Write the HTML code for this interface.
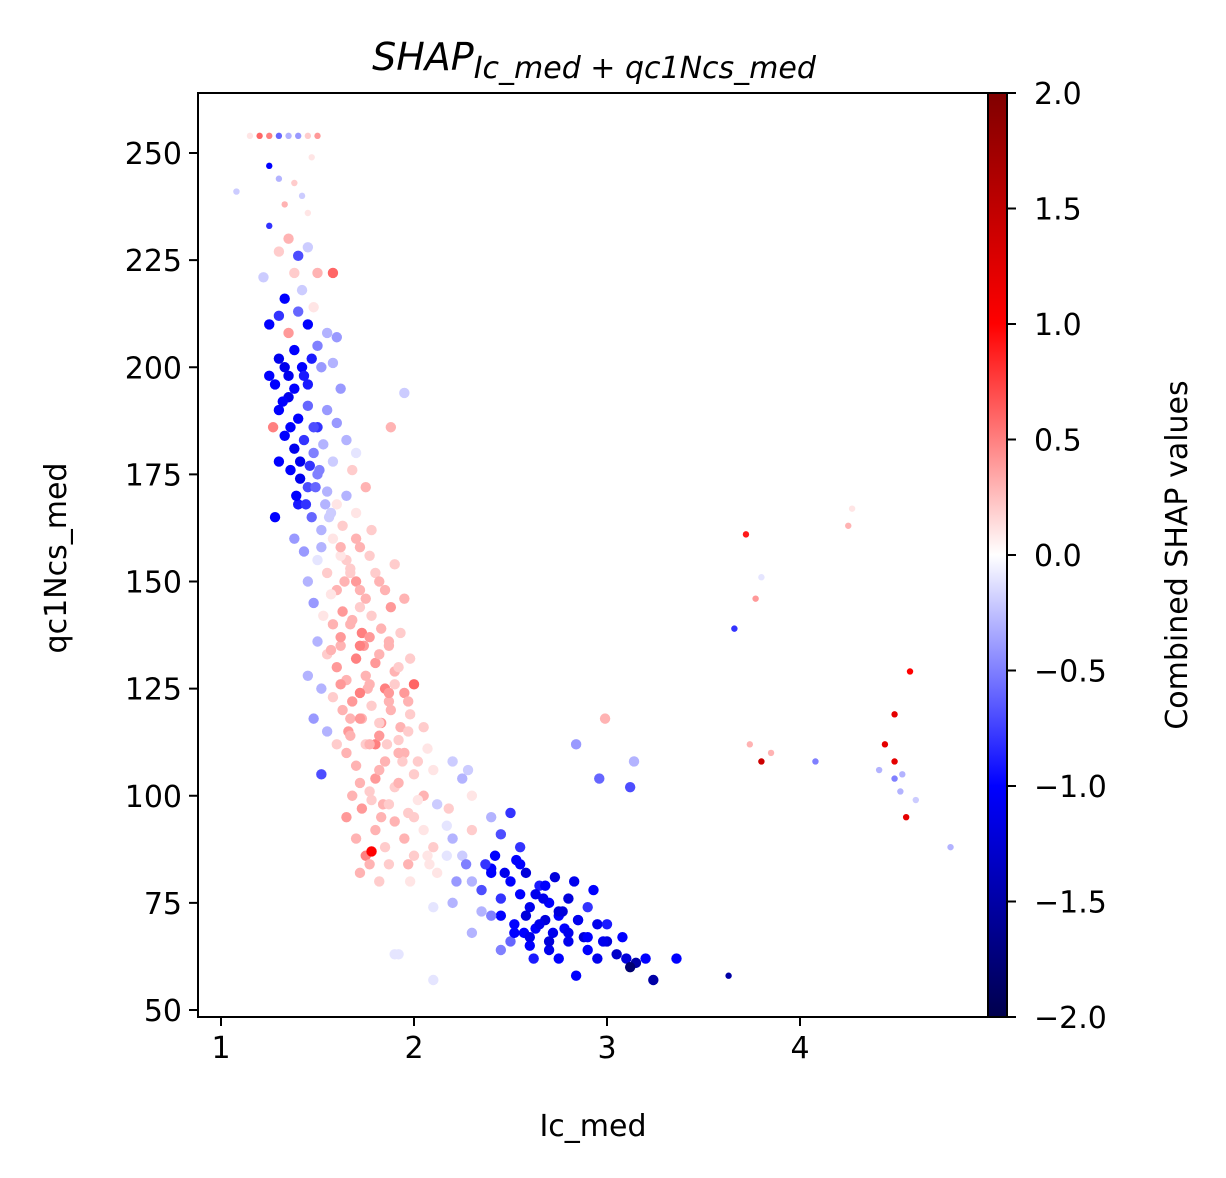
<!DOCTYPE html>
<html><head><meta charset="utf-8"><style>
body{margin:0;background:#fff;}
svg{display:block;font-family:"DejaVu Sans","Liberation Sans",sans-serif;}
</style></head><body>
<svg id="chart" width="1226" height="1178" viewBox="0 0 1226 1178">
<defs>
<linearGradient id="seis" x1="0" y1="1" x2="0" y2="0">
<stop offset="0" stop-color="#00004d"/><stop offset="0.25" stop-color="#0000ff"/><stop offset="0.5" stop-color="#ffffff"/><stop offset="0.75" stop-color="#ff0000"/><stop offset="1" stop-color="#800000"/>
</linearGradient>
<clipPath id="clip"><rect x="198" y="93" width="790" height="924"/></clipPath>
</defs>
<text x="594" y="70" text-anchor="middle" font-size="38" font-style="italic">SHAP<tspan font-size="30" dy="8">Ic_med + qc1Ncs_med</tspan></text>
<g id="points" clip-path="url(#clip)"></g>
<rect x="198" y="93" width="790" height="924" fill="none" stroke="#000" stroke-width="2"/>
<g id="xaxis"></g>
<g id="yaxis"></g>
<text x="593" y="1136" text-anchor="middle" font-size="30">Ic_med</text>
<text transform="translate(66,558) rotate(-90)" text-anchor="middle" font-size="30">qc1Ncs_med</text>
<rect x="988" y="93" width="19" height="924" fill="url(#seis)" stroke="#000" stroke-width="2"/>
<g id="caxis"></g>
<text transform="translate(1187,555) rotate(-90)" text-anchor="middle" font-size="30">Combined SHAP values</text>
</svg>
<script>
const xTicks=[1,2,3,4];
const yTicks=[50,75,100,125,150,175,200,225,250];
const cTicks=[2.0,1.5,1.0,0.5,0.0,-0.5,-1.0,-1.5,-2.0];
const xs=[1.15,1.2,1.25,1.3,1.35,1.4,1.45,1.5,
1.08,1.25,1.3,1.38,1.42,1.47,1.33,1.45,
1.25,1.35,1.4,1.38,1.5,1.58,1.45,1.3,1.42,1.22,1.48,1.33,
1.25,1.3,1.35,1.4,1.45,1.5,1.55,1.6,1.38,1.3,1.42,1.47,1.35,1.25,1.52,1.58,1.45,1.62,
1.3,1.35,1.4,1.45,1.5,1.55,1.6,1.65,1.33,1.38,1.43,1.48,1.53,1.58,1.27,1.7,1.36,1.41,
1.3,1.45,1.5,1.55,1.6,1.65,1.7,1.4,1.47,1.52,1.58,1.63,1.72,1.38,1.43,1.75,1.78,1.68,
1.45,1.5,1.55,1.6,1.65,1.7,1.75,1.8,1.85,1.9,1.48,1.53,1.58,1.63,1.68,1.73,1.78,1.83,1.88,1.95,1.93,1.5,1.98,
1.55,1.6,1.65,1.7,1.75,1.8,1.85,1.9,1.95,2.0,1.58,1.63,1.68,1.73,1.78,1.83,1.88,1.93,1.98,2.05,1.52,1.55,1.6,
1.65,1.7,1.75,1.8,1.85,1.9,1.95,2.0,2.05,2.1,2.15,2.2,2.25,2.3,1.68,1.73,1.78,1.83,2.18,2.28,
1.65,1.7,1.75,1.8,1.85,1.9,1.95,2.0,2.05,2.1,2.15,2.2,2.25,2.3,2.35,2.4,2.45,2.5,2.55,1.72,1.82,1.98,2.12,2.22,1.78,
2.3,2.35,2.4,2.45,2.5,2.55,2.6,2.65,2.7,2.75,2.8,2.85,2.9,2.95,2.45,2.52,2.58,2.63,2.68,2.72,2.78,2.88,2.4,2.35,2.2,2.1,
2.5,2.6,2.7,2.8,2.9,3.0,3.05,3.1,3.15,3.2,3.12,2.95,3.0,3.08,2.45,2.62,2.75,1.92,2.3,
1.45,1.48,1.52,1.62,1.72,1.66,1.76,1.86,1.56,1.64,1.74,1.84,1.94,1.7,1.8,1.9,2.0,2.08,2.4,2.55,2.65,2.75,2.85,2.57,2.67,2.77,
1.28,1.33,1.38,1.43,1.48,1.36,1.41,1.46,1.51,1.32,1.39,1.44,1.49,1.54,1.57,1.62,1.67,1.52,1.57,1.62,1.67,1.72,1.77,1.82,1.87,
1.57,1.62,1.67,1.72,1.77,1.82,1.87,1.92,1.62,1.67,1.72,1.77,1.82,1.87,1.92,1.97,1.67,1.72,1.77,1.82,1.87,1.92,1.97,2.02,2.07,
1.72,1.77,1.82,1.87,1.92,1.97,2.02,2.07,2.12,2.17,1.77,1.87,1.97,2.07,2.17,2.27,2.37,2.42,2.47,2.53,2.58,2.63,2.68,2.73,2.83,2.93,2.52,2.6,2.7,2.8,2.9,2.98,
3.72,3.77,3.80,3.66,4.27,4.25,4.1,4.57,4.49,4.44,4.49,3.80,3.74,3.85,4.08,4.41,4.49,4.53,4.55,4.6,4.52,4.78,2.99,2.84,3.14,3.12,2.96,3.63,2.84,3.24,3.36,2.1,1.9,1.95,1.88,1.28];
const ys=[254,254,254,254,254,254,254,254,
241,247,244,243,240,249,238,236,
233,230,226,222,222,222,228,227,218,221,214,216,
210,212,208,213,210,205,208,207,204,202,200,202,198,198,200,201,196,195,
190,193,188,191,186,190,187,183,184,181,183,180,182,178,186,180,176,174,
178,172,175,171,168,170,166,168,165,162,160,163,158,160,157,172,162,176,
150,155,152,148,155,150,146,152,148,154,145,142,140,143,141,138,142,139,144,146,138,136,132,
133,130,127,132,128,131,125,129,124,126,123,120,122,118,121,117,120,116,119,116,125,115,112,
110,107,112,104,108,102,110,105,100,106,103,108,104,100,100,97,99,95,97,106,
95,90,86,92,88,94,90,86,92,88,94,90,86,92,88,95,91,96,88,82,80,80,82,80,87,
80,78,82,76,80,77,74,79,75,72,76,71,74,70,72,70,72,69,71,68,69,67,72,73,75,74,
66,65,64,66,64,66,63,62,61,62,60,62,70,67,64,62,62,63,68,
128,118,105,135,144,115,125,112,165,150,135,98,108,160,112,126,95,84,83,84,70,73,71,68,76,73,
196,200,195,198,186,186,178,177,176,192,170,168,172,168,166,156,152,158,147,158,153,148,156,150,136,
134,137,140,135,137,133,135,130,126,118,124,126,114,122,113,122,114,118,112,117,124,110,115,108,111,
103,101,106,98,103,96,99,95,98,93,84,84,84,86,86,84,84,86,82,85,82,77,79,81,80,78,68,67,66,68,67,66,
161,146,151,139,167,163,136,129,119,112,108,108,112,110,108,106,104,105,95,99,101,88,118,112,108,102,104,58,58,57,62,57,63,194,186,165];
const vals=[0.1,0.6,0.5,-0.6,-0.3,-0.4,0.2,0.4,
-0.2,-1,-0.3,0.2,-0.2,0.1,0.3,0.1,
-0.8,0.3,-0.7,0.2,0.3,0.6,-0.2,0.2,-0.2,-0.2,0.1,-1,
-1,-0.8,0.4,-0.6,-1,-0.5,-0.3,-0.4,-1,-1.1,-1,-0.9,-1.1,-1,-0.4,-0.3,-0.9,-0.4,
-1,-1.1,-1,-0.6,-0.8,-0.4,-0.4,-0.3,-1,-1.1,-0.8,-0.5,-0.3,-0.2,0.5,-0.1,-1,-1.1,
-1,-0.7,-0.5,-0.3,0.1,-0.3,0.1,-0.9,-0.6,-0.3,0.1,0.2,0.3,-0.4,-0.4,0.3,0.2,0.2,
-0.3,-0.1,0.2,0.3,0.2,0.4,0.3,0.2,0.3,0.2,-0.4,0.1,0.3,0.4,0.3,0.5,0.2,0.3,0.4,0.3,0.2,-0.3,0.2,
0.2,0.4,0.3,0.5,0.3,0.4,0.5,0.3,0.4,0.6,0.2,0.3,0.4,0.3,0.2,0.4,0.3,0.3,0.2,0.2,-0.3,-0.3,0.2,
0.3,0.3,0.2,0.4,0.3,0.2,0.3,0.2,0.3,0.1,0,-0.2,-0.3,0.1,0.3,0.4,0.2,0.3,0.2,-0.2,
0.4,0.3,0.5,0.3,0.2,0.3,0.3,0.2,0.1,0.2,0,-0.3,-0.2,0.2,0,-0.3,-0.7,-0.8,-0.8,0.3,0.2,0.1,0.1,-0.4,1.0,
-0.3,-0.7,-1,-0.8,-1,-1,-1.1,-0.9,-1,-1,-1.2,-1,-0.8,-1.1,-1,-1,-1.2,-1,-1.2,-1.1,-1,-1.2,-0.5,-0.3,-0.3,-0.1,
-0.6,-1,-1.1,-1.1,-1,-1.2,-1.3,-1.2,-1.5,-1,-1.8,-1.1,-0.9,-1,-0.5,-0.9,-1,-0.1,-0.3,
-0.3,-0.4,-0.7,0.3,0.2,0.4,0.3,0.2,-0.2,0.3,0.4,0.3,0.2,0.3,0.5,0.2,0.2,0.1,-1.0,-1.0,-1.1,-1.2,-1.1,-1.0,-1.1,-1.2,
-1.0,-1.1,-1.0,-0.9,-0.7,-1.0,-1.1,-0.8,-0.5,-1.0,-1.0,-0.8,-0.6,-0.3,-0.2,0.1,0.2,-0.3,0.1,0.3,0.2,0.3,0.2,0.3,0.3,
0.3,0.4,0.3,0.5,0.4,0.3,0.3,0.2,0.4,0.3,0.5,0.3,0.4,0.3,0.2,0.3,0.3,0.4,0.3,0.2,0.4,0.3,0.2,0.2,0.1,
0.3,0.2,0.3,0.2,0.3,0.2,0.1,0.0,-0.2,-0.1,0.3,0.2,0.3,0.1,-0.1,-0.5,-0.8,-1.0,-1.1,-1.0,-1.2,-1.1,-1.0,-1.2,-1.1,-1.0,-1.0,-1.1,-1.2,-1.1,-1.0,-1.1,
0.9,0.4,-0.1,-0.8,0.1,0.3,0,1.0,1.2,1.2,1.2,1.4,0.3,0.3,-0.5,-0.3,-0.5,-0.3,1.2,-0.2,-0.3,-0.3,0.3,-0.4,-0.3,-0.7,-0.6,-1.5,-1,-1.5,-1,-0.1,-0.1,-0.2,0.3,-1];
const NS='http://www.w3.org/2000/svg';
const X0=221,XS=193,Y0=153,YS=857/200;
function xp(v){return X0+(v-1)*XS;}
function yp(v){return Y0+(250-v)*YS;}
function cp(v){return 93+(2-v)/4*924;}
function lerp(a,b,t){return a+(b-a)*t;}
function seismic(v){
  let t=Math.max(0,Math.min(1,(v+2)/4));
  const s=[[0,0,0,0.3],[0.25,0,0,1],[0.5,1,1,1],[0.75,1,0,0],[1,0.5,0,0]];
  for(let i=0;i<4;i++){if(t<=s[i+1][0]){const u=(t-s[i][0])/(s[i+1][0]-s[i][0]);
    return 'rgb('+[1,2,3].map(k=>Math.round(255*lerp(s[i][k],s[i+1][k],u))).join(',')+')';}}
  return 'rgb(128,0,0)';
}
const pg=document.getElementById('points');
for(let i=0;i<xs.length;i++){
  const c=document.createElementNS(NS,'circle');
  c.setAttribute('cx',xp(xs[i]));c.setAttribute('cy',yp(ys[i]));
  c.setAttribute('r',xs[i]>3.4||ys[i]>230?3.2:5.2);
  c.setAttribute('fill',seismic(vals[i]));
  
  
  pg.appendChild(c);
}
function mk(tag,attrs,parent,txt){const e=document.createElementNS(NS,tag);for(const k in attrs)e.setAttribute(k,attrs[k]);if(txt!==undefined)e.textContent=txt;parent.appendChild(e);return e;}
const xg=document.getElementById('xaxis');
xTicks.forEach(v=>{
  mk('line',{x1:xp(v),x2:xp(v),y1:1017,y2:1026,stroke:'#000','stroke-width':2},xg);
  const t=mk('text',{x:xp(v),y:1058,'text-anchor':'middle','font-size':30},xg,String(v));
  
  
});
const yg=document.getElementById('yaxis');
yTicks.forEach(v=>{
  mk('line',{x1:189,x2:198,y1:yp(v),y2:yp(v),stroke:'#000','stroke-width':2},yg);
  const t=mk('text',{x:182,y:yp(v)+11,'text-anchor':'end','font-size':30},yg,String(v));
  
  
});
const cg=document.getElementById('caxis');
cTicks.forEach(v=>{
  mk('line',{x1:1007,x2:1016,y1:cp(v),y2:cp(v),stroke:'#000','stroke-width':2},cg);
  const s=(v<0?'\u2212':'')+Math.abs(v).toFixed(1);
  const t=mk('text',{x:1034,y:cp(v)+11,'font-size':30},cg,s);
  
  
});
</script>
</body></html>
